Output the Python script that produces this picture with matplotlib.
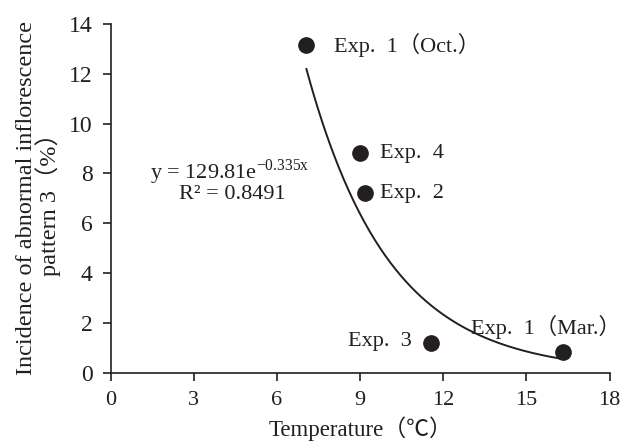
import numpy as np
import matplotlib
matplotlib.use('Agg')
import matplotlib.pyplot as plt

plt.rcParams['font.family'] = ['Liberation Serif', 'Noto Sans CJK KR', 'DejaVu Sans']
plt.rcParams['mathtext.fontset'] = 'custom'
plt.rcParams['mathtext.rm'] = 'Liberation Serif'

# data
labels = ['Exp.  1（Oct.）', 'Exp.  4', 'Exp.  2', 'Exp.  3', 'Exp.  1（Mar.）']
temps = [7.06, 8.98, 9.16, 11.56, 16.33]
incidence = [13.15, 8.81, 7.2, 1.2, 0.83]

# exponential trendline y = a * exp(b x)
fit_a = 129.81
fit_b = -0.335
r2 = 0.8491

ink = '#231f20'
fs = 16

fig = plt.figure(figsize=(6.24, 4.47), dpi=100)
ax = fig.add_axes([0.1774, 0.1662, 0.7996, 0.78])

xs = np.linspace(min(temps), max(temps), 200)
ax.plot(xs, fit_a * np.exp(fit_b * xs), color=ink, linewidth=1.4)
ax.plot(temps, incidence, 'o', color=ink, markersize=11, clip_on=False)

# point labels
ax.text(8.05, 13.15, labels[0], fontsize=fs, color=ink, va='center', ha='left')
ax.text(9.72, 8.82, labels[1], fontsize=fs, color=ink, va='center', ha='left')
ax.text(9.72, 7.2, labels[2], fontsize=fs, color=ink, va='center', ha='left')
ax.text(10.85, 1.25, labels[3], fontsize=fs, color=ink, va='center', ha='right')
ax.text(13.0, 1.84, labels[4], fontsize=fs, color=ink, va='center', ha='left')

# equation
ax.text(1.42, 8.05, 'y = %.2fe$^{\\mathrm{%.3fx}}$' % (fit_a, fit_b), fontsize=fs,
        color=ink, va='center', ha='left')
ax.text(4.38, 7.15, 'R² = %.4f' % r2, fontsize=fs, color=ink,
        va='center', ha='center')

ax.set_xlim(0, 18)
ax.set_ylim(0, 14)
ax.set_xticks([0, 3, 6, 9, 12, 15, 18])
ax.set_yticks(range(0, 15, 2))
ax.spines['top'].set_visible(False)
ax.spines['right'].set_visible(False)
for s in ['left', 'bottom']:
    ax.spines[s].set_linewidth(1.2)
    ax.spines[s].set_color(ink)
ax.tick_params(direction='out', length=6, width=1.2, colors=ink,
               labelsize=17, pad=7)
ax.tick_params(axis='x', labelsize=16)

ax.set_xlabel('Temperature（℃）', fontsize=16.5, color=ink, labelpad=5)
ax.set_ylabel('Incidence of abnormal inflorescence\npattern 3（%）',
              fontsize=17.5, color=ink, labelpad=6, linespacing=0.9)

fig.savefig('out.png', dpi=100)
